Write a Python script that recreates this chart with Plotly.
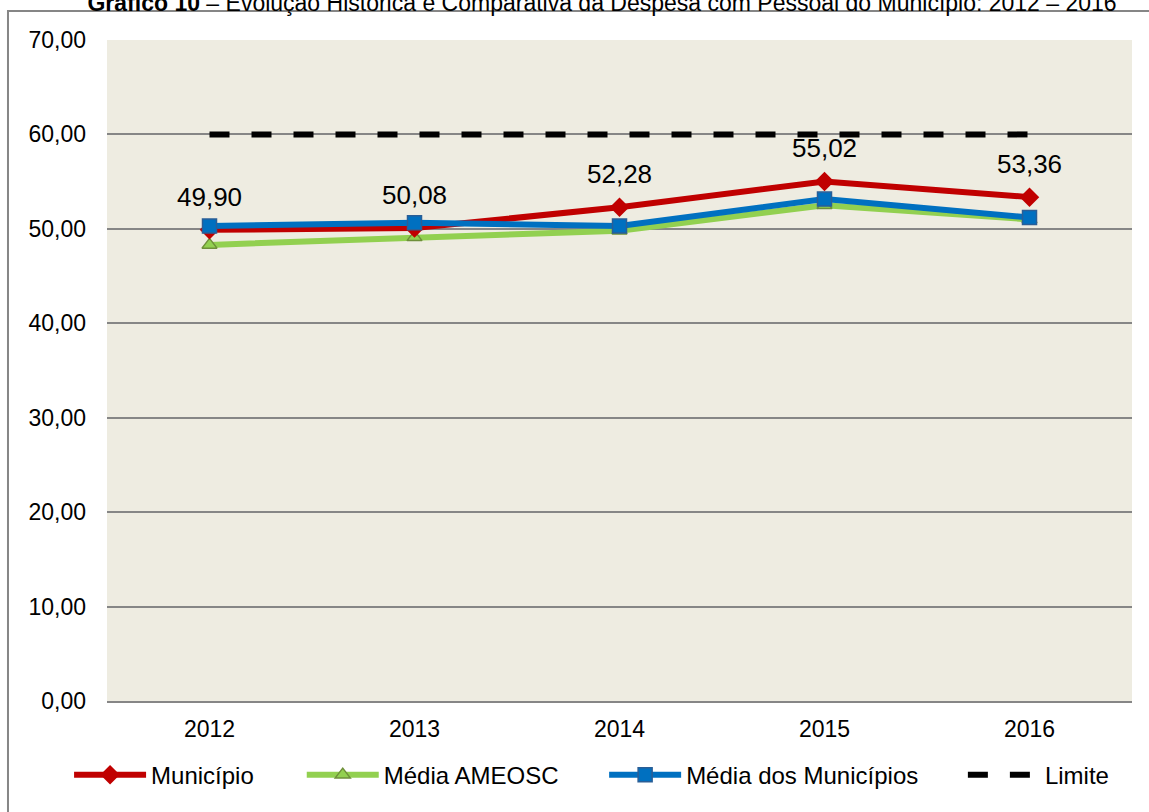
import plotly.graph_objects as go

anos = ["2012", "2013", "2014", "2015", "2016"]
municipio = [49.90, 50.08, 52.28, 55.02, 53.36]
media_ameosc = [48.3, 49.1, 49.8, 52.5, 51.0]
media_municipios = [50.3, 50.65, 50.3, 53.15, 51.2]
limite = [60, 60, 60, 60, 60]

FONT = "Liberation Sans, Arial, sans-serif"

fig = go.Figure()
fig.add_trace(go.Scatter(
    x=anos, y=media_ameosc, name="Média AMEOSC", mode="lines+markers",
    line=dict(color="#92D050", width=6), legend="legend2",
    marker=dict(symbol="triangle-up", size=13, color="#92D050",
                line=dict(color="#6E8F3A", width=1.5)),
))
fig.add_trace(go.Scatter(
    x=anos, y=municipio, name="Município", mode="lines+markers",
    line=dict(color="#C00000", width=6), legend="legend",
    marker=dict(symbol="diamond", size=15, color="#C00000"),
))
fig.add_trace(go.Scatter(
    x=anos, y=media_municipios, name="Média dos Municípios", mode="lines+markers",
    line=dict(color="#0070C0", width=6), legend="legend3",
    marker=dict(symbol="square", size=14, color="#0070C0",
                line=dict(color="#2A5E96", width=1.5)),
))
fig.add_trace(go.Scatter(
    x=anos, y=limite, name="Limite", mode="lines", legend="legend4",
    line=dict(color="black", width=6, dash="20px,22px"),
))

# rótulos de dados do Município (x = índice da categoria)
for i, v in enumerate(municipio):
    fig.add_annotation(x=i, y=v, text=f"{v:.2f}".replace(".", ","),
                       showarrow=False, yshift=33,
                       font=dict(size=26, color="black"))

fig.add_shape(type="rect", xref="paper", yref="paper",
              x0=-0.0966, x1=1.1, y0=-0.3, y1=1.0439,
              line=dict(color="#868686", width=2), fillcolor="rgba(0,0,0,0)")

leg = dict(orientation="h", y=-0.112, yanchor="middle", xanchor="left",
           font=dict(size=24), itemwidth=72, bgcolor="rgba(0,0,0,0)")

fig.update_layout(
    width=1149, height=812,
    margin=dict(l=107, r=17, t=40, b=111),
    paper_bgcolor="white", plot_bgcolor="#EEECE1",
    font=dict(family=FONT, size=23, color="black"),
    separators=",.",
    title=dict(
        text="<b>Gráfico 10</b> – Evolução Histórica e Comparativa da Despesa com Pessoal do Município: 2012 – 2016",
        x=0.524, xanchor="center", y=0.997, yanchor="middle",
        font=dict(size=23, color="black"),
    ),
    showlegend=True,
    legend=dict(leg, x=-0.037),
    legend2=dict(leg, x=0.19),
    legend3=dict(leg, x=0.485),
    legend4=dict(leg, x=0.835),
)
fig.update_xaxes(type="category", range=[-0.5, 4.5], showline=True,
                 linecolor="#868686", linewidth=2,
                 showgrid=False, ticks="", ticklabelstandoff=6,
                 tickfont=dict(size=23))
fig.update_yaxes(range=[0, 70], dtick=10, tickformat=".2f",
                 showline=False, gridcolor="#868686", gridwidth=1.5,
                 ticks="", ticklabelstandoff=20,
                 zeroline=False, tickfont=dict(size=23))

fig.write_html("out.html", config={"displayModeBar": False},
               post_script="document.body.style.margin='0';")
